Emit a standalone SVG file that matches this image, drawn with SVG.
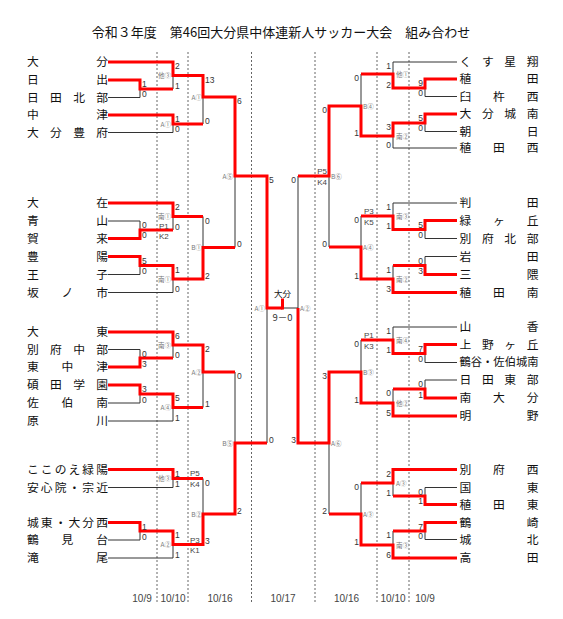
<svg xmlns="http://www.w3.org/2000/svg" width="563" height="619" viewBox="0 0 563 619">
<style>
.nm{font-family:"Noto Sans CJK JP","Noto Sans CJK SC",sans-serif;font-size:11.8px;fill:#111}
.sc{font-family:"Liberation Sans",Arial,sans-serif;font-size:8.5px;fill:#333}
.sr{font-family:"Liberation Sans",Arial,sans-serif;font-size:8.5px;fill:#333;text-anchor:end}
.lb{font-family:"Noto Sans CJK JP",sans-serif;font-size:6.5px;fill:#777}
.le{font-family:"Noto Sans CJK JP",sans-serif;font-size:6.5px;fill:#777;text-anchor:end}
.pk{font-family:"Liberation Sans",Arial,sans-serif;font-size:8px;fill:#444}
.dt{font-family:"Liberation Sans",Arial,sans-serif;font-size:10px;fill:#444;text-anchor:middle}
.ln{stroke:#333;stroke-width:1;fill:none}
.w{stroke:#f00;stroke-width:3;fill:none;stroke-linejoin:miter}
.dot{stroke:#666;stroke-width:1;stroke-dasharray:2 2;fill:none}
</style>
<rect width="563" height="619" fill="#fff"/>
<text x="281" y="36.5" font-family="Noto Sans CJK JP, Noto Sans CJK SC, sans-serif" font-size="13" fill="#111" text-anchor="middle">令和３年度　第46回大分県中体連新人サッカー大会　組み合わせ</text>

<g id="dates">
<path class="dot" d="M157 52V603M188 52V603M251.5 52V603M315 52V603M377 52V603M409 52V603"/>
<text class="dt" x="142" y="602">10/9</text>
<text class="dt" x="173" y="602">10/10</text>
<text class="dt" x="220" y="602">10/16</text>
<text class="dt" x="283" y="602">10/17</text>
<text class="dt" x="346.5" y="602">10/16</text>
<text class="dt" x="393" y="602">10/10</text>
<text class="dt" x="425" y="602">10/9</text>
</g>

<g id="connectors">
<path class="ln" d="M108 62H173M108 80H140M108 97.5H140M108 115H173M108 132.5H173M108 203H173M108 221H140M108 238.5H140M108 256.5H140M108 274.5H140M108 292.5H173M108 332H173M108 349.5H140M108 367H140M108 385H140M108 403H140M108 421H173M108 469.5H173M108 487.5H173M108 522.5H140M108 540H140M108 558H173
M140 80V97.5M140 89H173M173 62V89M173 75.5H203M173 115V132.5M173 124H203M203 75.5V124M203 97H235
M140 221V238.5M140 230H173M173 203V230M173 216.5H203M140 256.5V274.5M140 265.5H173M173 265.5V292.5M173 279H203M203 216.5V279M203 247.5H235M235 97V247.5M235 176H267
M140 349.5V367M140 358H173M173 332V358M173 345H203M140 385V403M140 394H173M173 394V421M173 407.5H203M203 345V407.5M203 372H235
M173 469.5V487.5M173 478.5H203M140 522.5V540M140 531H173M173 531V558M173 544.5H203M203 478.5V544.5M203 514H235M235 372V514M235 443H267M267 176V443M267 308H282.5
M457 62H393M457 79H425M457 96.5H425M457 114H425M457 131.5H425M457 148H393M457 203H393M457 220.5H425M457 238.5H425M457 256.5H425M457 274.5H425M457 292.5H393M457 327H393M457 344.5H425M457 362.5H425M457 380H425M457 398H425M457 416H393M457 469.5H393M457 487.5H425M457 504.5H425M457 522.5H425M457 539.5H425M457 558H393
M425 79V96.5M425 88H393M393 62V88M393 74H361M425 114V131.5M425 123H393M393 123V148M393 136H361M361 74V136M361 106H329
M425 220.5V238.5M425 229.5H393M393 203V229.5M393 216H361M425 256.5V274.5M425 265.5H393M393 265.5V292.5M393 279H361M361 216V279M361 247H329M329 106V247M329 176H298
M425 344.5V362.5M425 353.5H393M393 327V353.5M393 340H361M425 380V398M425 389H393M393 389V416M393 403H361M361 340V403M361 372H329
M425 487.5V504.5M425 496H393M393 469.5V496M393 483H361M425 522.5V539.5M425 531H393M393 531V558M393 545H361M361 483V545M361 514H329M329 372V514M329 443H298M298 176V443M298 308H282.5"/>
<polyline class="w" points="108,62 173,62 173,75.5 203,75.5 203,97 235,97 235,176 267,176 267,308 282.5,308"/>
<polyline class="w" stroke-width="3.5" points="282.5,309.5 282.5,298.5"/>
<polyline class="w" points="108,80 140,80 140,89 173,89"/>
<polyline class="w" points="108,115 173,115 173,124 203,124"/>
<polyline class="w" points="108,203 173,203 173,216.5 203,216.5"/>
<polyline class="w" points="108,238.5 140,238.5 140,230 173,230"/>
<polyline class="w" points="108,256.5 140,256.5 140,265.5 173,265.5 173,279 203,279 203,247.5 235,247.5"/>
<polyline class="w" points="108,332 173,332 173,345 203,345 203,372 235,372"/>
<polyline class="w" points="108,367 140,367 140,358 173,358"/>
<polyline class="w" points="108,385 140,385 140,394 173,394 173,407.5 203,407.5"/>
<polyline class="w" points="108,469.5 173,469.5 173,478.5 203,478.5"/>
<polyline class="w" points="108,522.5 140,522.5 140,531 173,531 173,544.5 203,544.5 203,514 235,514 235,443 267,443"/>
<polyline class="w" points="457,79 425,79 425,88 393,88 393,74 361,74"/>
<polyline class="w" points="457,114 425,114 425,123 393,123 393,136 361,136 361,106 329,106 329,176 298,176"/>
<polyline class="w" points="457,220.5 425,220.5 425,229.5 393,229.5 393,216 361,216"/>
<polyline class="w" points="457,274.5 425,274.5 425,265.5 393,265.5"/>
<polyline class="w" points="457,292.5 393,292.5 393,279 361,279 361,247 329,247"/>
<polyline class="w" points="457,344.5 425,344.5 425,353.5 393,353.5 393,340 361,340"/>
<polyline class="w" points="457,398 425,398 425,389 393,389"/>
<polyline class="w" points="457,416 393,416 393,403 361,403 361,372 329,372 329,443 298,443 298,308"/>
<polyline class="w" points="457,469.5 393,469.5 393,483 361,483"/>
<polyline class="w" points="457,504.5 425,504.5 425,496 393,496"/>
<polyline class="w" points="457,522.5 425,522.5 425,531 393,531"/>
<polyline class="w" points="457,558 393,558 393,545 361,545 361,514 329,514"/>
</g>

<g id="teams-left">
<g id="t-oita"><text class="nm" x="27" y="66.2" textLength="81" lengthAdjust="spacing">大分</text></g>
<g id="t-hiji"><text class="nm" x="27" y="84.2" textLength="81" lengthAdjust="spacing">日出</text></g>
<g id="t-hitakita"><text class="nm" x="27" y="101.7" textLength="81" lengthAdjust="spacing">日田北部</text></g>
<g id="t-nakatsu"><text class="nm" x="27" y="119.2" textLength="81" lengthAdjust="spacing">中津</text></g>
<g id="t-oitahofu"><text class="nm" x="27" y="136.7" textLength="81" lengthAdjust="spacing">大分豊府</text></g>
<g id="t-ozai"><text class="nm" x="27" y="207.2" textLength="81" lengthAdjust="spacing">大在</text></g>
<g id="t-aoyama"><text class="nm" x="27" y="225.2" textLength="81" lengthAdjust="spacing">青山</text></g>
<g id="t-kaku"><text class="nm" x="27" y="242.7" textLength="81" lengthAdjust="spacing">賀来</text></g>
<g id="t-hoyo"><text class="nm" x="27" y="260.7" textLength="81" lengthAdjust="spacing">豊陽</text></g>
<g id="t-oji"><text class="nm" x="27" y="278.7" textLength="81" lengthAdjust="spacing">王子</text></g>
<g id="t-sakanoichi"><text class="nm" x="27" y="296.7" textLength="81" lengthAdjust="spacing">坂ノ市</text></g>
<g id="t-daito"><text class="nm" x="27" y="336.2" textLength="81" lengthAdjust="spacing">大東</text></g>
<g id="t-beppuchubu"><text class="nm" x="27" y="353.7" textLength="81" lengthAdjust="spacing">別府中部</text></g>
<g id="t-higashinakatsu"><text class="nm" x="27" y="371.2" textLength="81" lengthAdjust="spacing">東中津</text></g>
<g id="t-sekiden"><text class="nm" x="27" y="389.2" textLength="81" lengthAdjust="spacing">碩田学園</text></g>
<g id="t-saikiminami"><text class="nm" x="27" y="407.2" textLength="81" lengthAdjust="spacing">佐伯南</text></g>
<g id="t-harukawa"><text class="nm" x="27" y="425.2" textLength="81" lengthAdjust="spacing">原川</text></g>
<g id="t-kokonoe"><text class="nm" x="27" y="473.7" textLength="81" lengthAdjust="spacing">ここのえ緑陽</text></g>
<g id="t-ajimu"><text class="nm" x="27" y="491.7" textLength="81" lengthAdjust="spacing">安心院・宗近</text></g>
<g id="t-jonishi"><text class="nm" x="27" y="526.7" textLength="81" lengthAdjust="spacing">城東・大分西</text></g>
<g id="t-tsurumidai"><text class="nm" x="27" y="544.2" textLength="81" lengthAdjust="spacing">鶴見台</text></g>
<g id="t-takio"><text class="nm" x="27" y="562.2" textLength="81" lengthAdjust="spacing">滝尾</text></g>
</g>

<g id="teams-right">
<g id="t-kusu"><text class="nm" x="459.5" y="66.2" textLength="79" lengthAdjust="spacing">くす星翔</text></g>
<g id="t-wasada"><text class="nm" x="459.5" y="83.2" textLength="79" lengthAdjust="spacing">稙田</text></g>
<g id="t-usukinishi"><text class="nm" x="459.5" y="100.7" textLength="79" lengthAdjust="spacing">臼杵西</text></g>
<g id="t-jonan"><text class="nm" x="459.5" y="118.2" textLength="79" lengthAdjust="spacing">大分城南</text></g>
<g id="t-asahi"><text class="nm" x="459.5" y="135.7" textLength="79" lengthAdjust="spacing">朝日</text></g>
<g id="t-wasadanishi"><text class="nm" x="459.5" y="152.2" textLength="79" lengthAdjust="spacing">稙田西</text></g>
<g id="t-handa"><text class="nm" x="459.5" y="207.2" textLength="79" lengthAdjust="spacing">判田</text></g>
<g id="t-midorigaoka"><text class="nm" x="459.5" y="224.7" textLength="79" lengthAdjust="spacing">緑ヶ丘</text></g>
<g id="t-beppuhokubu"><text class="nm" x="459.5" y="242.7" textLength="79" lengthAdjust="spacing">別府北部</text></g>
<g id="t-iwata"><text class="nm" x="459.5" y="260.7" textLength="79" lengthAdjust="spacing">岩田</text></g>
<g id="t-mikuma"><text class="nm" x="459.5" y="278.7" textLength="79" lengthAdjust="spacing">三隈</text></g>
<g id="t-wasadaminami"><text class="nm" x="459.5" y="296.7" textLength="79" lengthAdjust="spacing">稙田南</text></g>
<g id="t-yamaga"><text class="nm" x="459.5" y="331.2" textLength="79" lengthAdjust="spacing">山香</text></g>
<g id="t-uenogaoka"><text class="nm" x="459.5" y="348.7" textLength="79" lengthAdjust="spacing">上野ヶ丘</text></g>
<g id="t-tsuruya"><text class="nm" x="459.5" y="366.3" font-size="11" textLength="79" lengthAdjust="spacingAndGlyphs">鶴谷・佐伯城南</text></g>
<g id="t-hitatobu"><text class="nm" x="459.5" y="384.2" textLength="79" lengthAdjust="spacing">日田東部</text></g>
<g id="t-minamioita"><text class="nm" x="459.5" y="402.2" textLength="79" lengthAdjust="spacing">南大分</text></g>
<g id="t-akeno"><text class="nm" x="459.5" y="420.2" textLength="79" lengthAdjust="spacing">明野</text></g>
<g id="t-beppunishi"><text class="nm" x="459.5" y="473.7" textLength="79" lengthAdjust="spacing">別府西</text></g>
<g id="t-kunisaki"><text class="nm" x="459.5" y="491.7" textLength="79" lengthAdjust="spacing">国東</text></g>
<g id="t-wasadahigashi"><text class="nm" x="459.5" y="508.7" textLength="79" lengthAdjust="spacing">稙田東</text></g>
<g id="t-tsurusaki"><text class="nm" x="459.5" y="526.7" textLength="79" lengthAdjust="spacing">鶴崎</text></g>
<g id="t-johoku"><text class="nm" x="459.5" y="543.7" textLength="79" lengthAdjust="spacing">城北</text></g>
<g id="t-takada"><text class="nm" x="459.5" y="562.2" textLength="79" lengthAdjust="spacing">高田</text></g>
</g>

<g id="matches-left">
<g id="m-l1"><text class="sc" x="142" y="87">1</text><text class="sc" x="142" y="97">0</text></g>
<g id="m-l2"><text class="sc" x="175" y="69">2</text><text class="sc" x="175" y="88.5">1</text><text class="le" x="171" y="78">他③</text></g>
<g id="m-l3"><text class="sc" x="175" y="122">1</text><text class="sc" x="175" y="132">0</text><text class="le" x="171" y="126.5">A①</text></g>
<g id="m-lA1"><text class="sc" x="205" y="82.5">13</text><text class="sc" x="205" y="123.5">0</text><text class="le" x="202" y="99.5">A①</text></g>
<g id="m-l5"><text class="sc" x="142" y="228">0</text><text class="sc" x="142" y="238">0</text></g>
<g id="m-l4"><text class="sc" x="175" y="210">2</text><text class="sc" x="175" y="229.5">0</text><text class="le" x="171" y="219">南①</text><text class="pk" x="159" y="228.5">P1</text><text class="pk" x="159" y="239">K2</text></g>
<g id="m-l6"><text class="sc" x="142" y="263.5">5</text><text class="sc" x="142" y="274">0</text></g>
<g id="m-l7"><text class="sc" x="175" y="272.5">1</text><text class="sc" x="175" y="292">0</text><text class="le" x="171" y="281.5">南①</text></g>
<g id="m-lB1"><text class="sc" x="205" y="223.5">0</text><text class="sc" x="205" y="278.5">2</text><text class="le" x="202" y="250">B①</text></g>
<g id="m-lA5"><text class="sc" x="237" y="104">6</text><text class="sc" x="237" y="247">0</text><text class="le" x="233" y="178.5">A⑤</text></g>
<g id="m-l8"><text class="sc" x="142" y="356.5">0</text><text class="sc" x="142" y="366.5">3</text></g>
<g id="m-l9"><text class="sc" x="175" y="339">6</text><text class="sc" x="175" y="357.5">0</text><text class="le" x="171" y="347.5">南③</text></g>
<g id="m-l10"><text class="sc" x="142" y="392">3</text><text class="sc" x="142" y="402.5">0</text></g>
<g id="m-l11"><text class="sc" x="175" y="401">5</text><text class="sc" x="175" y="420.5">1</text><text class="le" x="171" y="410">A④</text></g>
<g id="m-lA2"><text class="sc" x="205" y="352">2</text><text class="sc" x="205" y="407">1</text><text class="le" x="202" y="374.5">A②</text></g>
<g id="m-l12"><text class="sc" x="175" y="476.5">1</text><text class="sc" x="175" y="487">1</text><text class="le" x="171" y="481">他③</text></g>
<g id="m-l13"><text class="sc" x="142" y="529.5">1</text><text class="sc" x="142" y="539.5">0</text></g>
<g id="m-l14"><text class="sc" x="175" y="538">1</text><text class="sc" x="175" y="557.5">1</text><text class="le" x="171" y="547">A②</text></g>
<g id="m-lB2"><text class="sc" x="205" y="485.5">0</text><text class="sc" x="205" y="544">3</text><text class="le" x="202" y="516.5">B②</text><text class="pk" x="190" y="476">P5</text><text class="pk" x="190" y="487">K4</text><text class="pk" x="190" y="543">P3</text><text class="pk" x="190" y="553">K1</text></g>
<g id="m-lB5"><text class="sc" x="237" y="379">0</text><text class="sc" x="237" y="513.5">2</text><text class="le" x="233" y="445.5">B⑤</text></g>
<g id="m-lSF"><text class="sc" x="269" y="183">5</text><text class="sc" x="269" y="442.5">0</text><text class="le" x="265" y="310.5">A①</text></g>
</g>

<g id="final">
<text x="282.5" y="297" font-family="Noto Sans CJK JP, sans-serif" font-size="8.5" fill="#111" text-anchor="middle">大分</text>
<text x="282.5" y="320.5" font-family="Noto Sans CJK JP, sans-serif" font-size="9.5" fill="#333" text-anchor="middle">9－0</text>
</g>

<g id="matches-right">
<g id="m-r1"><text class="sr" x="423" y="86">9</text><text class="sr" x="423" y="96">0</text></g>
<g id="m-r2"><text class="sr" x="391" y="69">1</text><text class="sr" x="391" y="87.5">2</text><text class="lb" x="396" y="76.5">他①</text></g>
<g id="m-r3"><text class="sr" x="423" y="121">5</text><text class="sr" x="423" y="131">0</text></g>
<g id="m-r4"><text class="sr" x="391" y="130">3</text><text class="sr" x="391" y="147.5">0</text><text class="lb" x="396" y="138.5">南②</text></g>
<g id="m-rB4"><text class="sr" x="359" y="81">0</text><text class="sr" x="359" y="135.5">1</text><text class="lb" x="363" y="108.5">B④</text></g>
<g id="m-r5"><text class="sr" x="423" y="227.5">5</text><text class="sr" x="423" y="238">0</text></g>
<g id="m-r6"><text class="sr" x="391" y="210">1</text><text class="sr" x="391" y="229">1</text><text class="lb" x="396" y="218.5">南③</text></g>
<g id="m-r7"><text class="sr" x="423" y="263.5">0</text><text class="sr" x="423" y="274">3</text></g>
<g id="m-r8"><text class="sr" x="391" y="272.5">1</text><text class="sr" x="391" y="292">3</text><text class="lb" x="396" y="281.5">南②</text></g>
<g id="m-rA4"><text class="sr" x="359" y="223">0</text><text class="sr" x="359" y="278.5">1</text><text class="lb" x="363" y="249.5">A④</text><text class="pk" x="364" y="214">P3</text><text class="pk" x="364" y="225">K5</text></g>
<g id="m-rB6"><text class="sr" x="327" y="113">0</text><text class="sr" x="327" y="246.5">0</text><text class="lb" x="331" y="178.5">B⑥</text><text class="pk" x="327" y="173.5" text-anchor="end">P5</text><text class="pk" x="327" y="184.5" text-anchor="end">K4</text></g>
<g id="m-r9"><text class="sr" x="423" y="351.5">7</text><text class="sr" x="423" y="362">0</text></g>
<g id="m-r10"><text class="sr" x="391" y="334">1</text><text class="sr" x="391" y="353">1</text><text class="lb" x="396" y="342.5">南④</text></g>
<g id="m-r11"><text class="sr" x="423" y="387">0</text><text class="sr" x="423" y="397.5">1</text></g>
<g id="m-r12"><text class="sr" x="391" y="396">0</text><text class="sr" x="391" y="415.5">5</text><text class="lb" x="396" y="405.5">他②</text></g>
<g id="m-rB3"><text class="sr" x="359" y="347">0</text><text class="sr" x="359" y="402.5">1</text><text class="lb" x="363" y="374.5">B③</text><text class="pk" x="364" y="338">P1</text><text class="pk" x="364" y="349">K3</text></g>
<g id="m-r13"><text class="sr" x="423" y="494.5">0</text><text class="sr" x="423" y="504">1</text></g>
<g id="m-r14"><text class="sr" x="391" y="476.5">2</text><text class="sr" x="391" y="495.5">1</text><text class="lb" x="396" y="485.5">A③</text></g>
<g id="m-r15"><text class="sr" x="423" y="529.5">7</text><text class="sr" x="423" y="539">0</text></g>
<g id="m-r16"><text class="sr" x="391" y="538">1</text><text class="sr" x="391" y="557.5">6</text><text class="lb" x="396" y="547.5">南③</text></g>
<g id="m-rA3"><text class="sr" x="359" y="490">0</text><text class="sr" x="359" y="544.5">1</text><text class="lb" x="363" y="516.5">A③</text></g>
<g id="m-rA6"><text class="sr" x="327" y="379">3</text><text class="sr" x="327" y="513.5">2</text><text class="lb" x="331" y="445.5">A⑥</text></g>
<g id="m-rSF"><text class="sr" x="296" y="183">0</text><text class="sr" x="296" y="442.5">3</text><text class="lb" x="300" y="310.5">A②</text></g>
</g>
</svg>
